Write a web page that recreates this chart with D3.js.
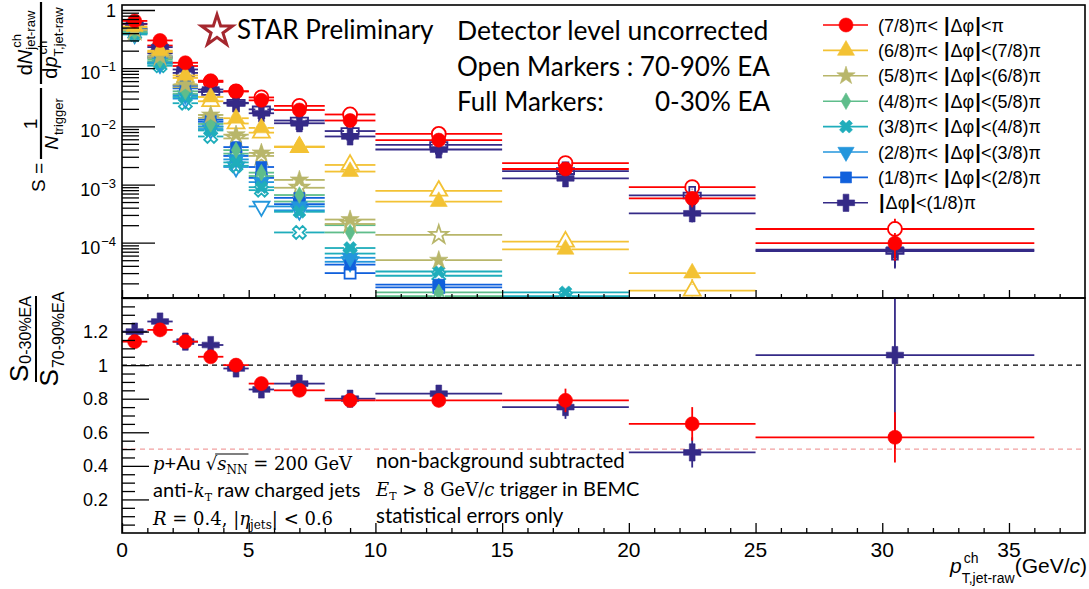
<!DOCTYPE html>
<html>
<head>
<meta charset="utf-8">
<script src="https://cdn.jsdelivr.net/npm/d3@7"></script>
<style>
body { margin: 0; background: #fff; }
svg { display: block; }
svg text { white-space: pre; }
.axis path { display: none; }
.axis line { stroke: #000; stroke-width: 1.3; }
</style>
</head>
<body>
<svg id="chart" width="1089" height="589"></svg>
<script>
"use strict";

// ---- data ----------------------------------------------------------------
var binLo     = [0, 1, 2, 3, 4, 5, 6, 8, 10, 15, 20, 25];
var binHi     = [1, 2, 3, 4, 5, 6, 8, 10, 15, 20, 25, 36];
var binCenter = [0.5, 1.5, 2.5, 3.5, 4.5, 5.5, 7, 9, 12.5, 17.5, 22.5, 30.5];

var dphiLabels = [
    ["(7/8)π< ", "|", "Δφ", "|", "<π"],
    ["(6/8)π< ", "|", "Δφ", "|", "<(7/8)π"],
    ["(5/8)π< ", "|", "Δφ", "|", "<(6/8)π"],
    ["(4/8)π< ", "|", "Δφ", "|", "<(5/8)π"],
    ["(3/8)π< ", "|", "Δφ", "|", "<(4/8)π"],
    ["(2/8)π< ", "|", "Δφ", "|", "<(3/8)π"],
    ["(1/8)π< ", "|", "Δφ", "|", "<(2/8)π"],
    ["", "|", "Δφ", "|", "<(1/8)π"]
];
var dphiColors = ["#ff0000", "#f3c234", "#b8b66a", "#5fbd8b", "#1fadbb", "#2396dc", "#1060dc", "#352a87"];
var dphiShapes = ["circle", "triangle", "star", "diamond", "x", "triangleDown", "square", "plus"];

// S, full markers = 0-30% EA, open markers = 70-90% EA
var s78Full = [0.65, 0.30, 0.124, 0.061, 0.040, 0.0280, 0.0191, 0.0126, 0.0058, 0.00185, 0.00058, 9.8e-5];
var s78Open = [0.57, 0.245, 0.109, 0.058, 0.040, 0.0314, 0.0225, 0.0160, 0.0074, 0.00234, 0.00090, 1.72e-4];
var s68Full = [0.52, 0.20, 0.075, 0.032, 0.0138, 0.0094, 0.0045, 0.00167, 0.00051, 7.7e-5, 3.0e-5, null];
var s68Open = [0.50, 0.19, 0.068, 0.027, 0.0112, 0.0078, 0.0044, 0.00217, 0.00078, 1.04e-4, 1.5e-5, null];
var s58Full = [0.46, 0.16, 0.052, 0.0157, 0.0072, 0.0035, 0.0012, 0.00025, 5.0e-5, null, null, null];
var s58Open = [0.44, 0.15, 0.047, 0.0140, 0.0062, 0.0031, 0.00088, 0.00021, 1.36e-4, null, null, null];
var s48Full = [0.42, 0.14, 0.040, 0.011, 0.0039, 0.0016, 0.00066, 1.5e-4, 1.4e-5, null, null, null];
var s48Open = [0.40, 0.13, 0.036, 0.0098, 0.0034, 0.0014, 0.00051, 2.0e-4, 1.2e-5, null, null, null];
var s38Full = [0.40, 0.12, 0.032, 0.0085, 0.0024, 0.0009, 3.4e-4, 8.1e-5, 3.2e-5, 1.4e-5, null, null];
var s38Open = [0.38, 0.11, 0.025, 0.0067, 0.0021, 0.0008, 1.5e-4, 6.5e-5, 2.7e-5, 1.2e-5, null, null];
var s28Full = [0.41, 0.125, 0.034, 0.0100, 0.0027, 0.0011, 4.2e-4, 5.5e-5, null, null, null, null];
var s28Open = [0.39, 0.12, 0.030, 0.0090, 0.0020, 4.2e-4, 3.6e-4, 4.7e-5, null, null, null, null];
var s18Full = [0.47, 0.16, 0.050, 0.013, 0.0044, 0.0020, 5.9e-4, 4.2e-5, 1.9e-5, null, null, null];
var s18Open = [0.44, 0.15, 0.045, 0.012, 0.0031, 0.0013, 4.6e-4, 3.0e-5, 1.7e-5, null, null, null];
var s08Full = [0.58, 0.23, 0.095, 0.043, 0.0249, 0.0168, 0.0113, 0.0067, 0.0040, 0.00128, 0.00032, 7.6e-5];
var s08Open = [0.48, 0.18, 0.083, 0.039, 0.0254, 0.0196, 0.0126, 0.0083, 0.0048, 0.0017, 0.00065, 7.2e-5];

var sRelErr = [0.005, 0.005, 0.01, 0.01, 0.02, 0.03, 0.04, 0.05, 0.08, 0.15, 0.3, 0.5];

// ratio S(0-30%) / S(70-90%)
var ratio78    = [1.14, 1.21, 1.14, 1.05, 1.00, 0.89, 0.85, 0.79, 0.79, 0.79, 0.65, 0.57];
var ratio78Err = [0.03, 0.02, 0.02, 0.02, 0.03, 0.04, 0.03, 0.03, 0.03, 0.07, 0.10, 0.15];
var ratio08    = [1.20, 1.26, 1.14, 1.12, 0.98, 0.855, 0.89, 0.80, 0.83, 0.75, 0.48, 1.06];
var ratio08Err = [0.03, 0.02, 0.03, 0.03, 0.04, 0.05, 0.04, 0.05, 0.03, 0.07, 0.09, 0.56];

var xTickLabels = ["0", "5", "10", "15", "20", "25", "30", "35"];
var yRatioTickLabels = ["0.2", "0.4", "0.6", "0.8", "1", "1.2"];

var fullSets = [s78Full, s68Full, s58Full, s48Full, s38Full, s28Full, s18Full, s08Full];
var openSets = [s78Open, s68Open, s58Open, s48Open, s38Open, s28Open, s18Open, s08Open];

// ---- setup ---------------------------------------------------------------
var sans  = "'Liberation Sans', Arial, Helvetica, sans-serif";
var cal   = "Lato, 'Open Sans', sans-serif";
var serif = "'DejaVu Serif', 'Liberation Serif', serif";

var svg = d3.select('#chart');

var x  = d3.scaleLinear().domain([0, 38]).range([122, 1085]);
var yS = d3.scaleLog().domain([1.12e-5, 1.22]).range([298, 5]);
var yR = d3.scaleLinear().domain([0, 1.4]).range([533, 298]);

var defs = svg.append('defs');
defs.append('clipPath').attr('id', 'clipTop').append('rect')
    .attr('x', 122).attr('y', 5).attr('width', 963).attr('height', 293);
defs.append('clipPath').attr('id', 'clipBot').append('rect')
    .attr('x', 122).attr('y', 298).attr('width', 963).attr('height', 235);

var markerSize = { circle: 155, triangle: 125, star: 105, diamond: 80, x: 105, triangleDown: 115, square: 121, plus: 165 };

function markerPath( shape ) {
    var type = {
        circle: d3.symbolCircle, triangle: d3.symbolTriangle, star: d3.symbolStar,
        diamond: d3.symbolDiamond, x: d3.symbolCross, triangleDown: d3.symbolTriangle,
        square: d3.symbolSquare, plus: d3.symbolCross
    }[shape];
    return d3.symbol().type( type ).size( markerSize[shape] )();
}

function markerRotation( shape ) {
    if ( shape === 'x' ) return 45;
    if ( shape === 'triangleDown' ) return 180;
    return 0;
}

function drawMarker( g, cx, cy, shape, color, open ) {
    g.append('path')
        .attr('d', markerPath( shape ))
        .attr('transform', 'translate(' + cx + ',' + cy + ') rotate(' + markerRotation( shape ) + ')')
        .attr('fill', open ? 'none' : color)
        .attr('stroke', color)
        .attr('stroke-width', open ? 1.8 : 0.6);
}

function drawPoints( g, yScale, vals, errs, color, shape, open ) {
    var lo = yScale.domain()[0];
    vals.forEach( function( v, i ) {
        if ( v === null ) return;
        var cx = x( binCenter[i] ), cy = yScale( v );
        var gap = 6;
        var x0 = x( binLo[i] ), x1 = x( binHi[i] );
        var e = errs[i];
        var yUp = yScale( v + e ), yDn = yScale( Math.max( v - e, lo ) );
        var seg = [[x0, cy, cx - gap, cy], [cx + gap, cy, x1, cy]];
        if ( cy - yUp > gap ) seg.push([cx, yUp, cx, cy - gap]);
        if ( yDn - cy > gap ) seg.push([cx, cy + gap, cx, yDn]);
        seg.forEach( function( s ) {
            g.append('line')
                .attr('x1', s[0]).attr('y1', s[1]).attr('x2', s[2]).attr('y2', s[3])
                .attr('stroke', color).attr('stroke-width', 1.8);
        });
        drawMarker( g, cx, cy, shape, color, open );
    });
}

// text built from pieces; a piece with sameX starts where the previous one started
function scriptLabel( g, pieces ) {
    var cursor = 0, prevStart = 0;
    var xs = [], ws = [];
    pieces.forEach( function( p ) {
        var start = p.sameX ? prevStart : cursor;
        var t = g.append('text')
            .attr('x', start + (p.dx || 0)).attr('y', p.shift || 0)
            .attr('font-family', p.family || sans)
            .attr('font-size', p.size)
            .attr('font-style', p.italic ? 'italic' : null)
            .attr('font-weight', p.bold ? 'bold' : null)
            .attr('fill', p.color || '#000')
            .text( p.text );
        var w = t.node().getComputedTextLength() + (p.dx || 0);
        xs.push( start ); ws.push( w );
        prevStart = start;
        cursor = Math.max( cursor, start + w );
    });
    scriptLabel.xs = xs;
    scriptLabel.ws = ws;
    return cursor;
}

// ---- top panel -------------------------------------------------------------
var gTop = svg.append('g').attr('clip-path', 'url(#clipTop)');

var order = [7, 6, 5, 4, 3, 2, 1, 0];
order.forEach( function( k ) {
    var errs = openSets[k].map( function( v, i ) { return v === null ? 0 : v * sRelErr[i]; });
    drawPoints( gTop, yS, openSets[k], errs, dphiColors[k], dphiShapes[k], true );
});
order.forEach( function( k ) {
    var errs = fullSets[k].map( function( v, i ) { return v === null ? 0 : v * sRelErr[i]; });
    drawPoints( gTop, yS, fullSets[k], errs, dphiColors[k], dphiShapes[k], false );
});

// axes of top panel
var majorS = [1e-4, 1e-3, 1e-2, 1e-1, 1];
var minorS = [];
[-5, -4, -3, -2, -1, 0].forEach( function( d ) {
    for ( var k = 2; k <= 9; k++ ) {
        var v = k * Math.pow( 10, d );
        if ( v > 1.12e-5 && v < 1.22 ) minorS.push( v );
    }
});
svg.append('g').attr('class', 'axis').attr('transform', 'translate(122,0)')
    .call( d3.axisLeft( yS ).tickValues( majorS ).tickSize( -33 ).tickFormat('') );
svg.append('g').attr('class', 'axis').attr('transform', 'translate(122,0)')
    .call( d3.axisLeft( yS ).tickValues( minorS ).tickSize( -17 ).tickFormat('') );

var majorX = [0, 5, 10, 15, 20, 25, 30, 35];
var minorX = d3.range( 0, 38 ).filter( function( v ) { return v % 5 !== 0; });
svg.append('g').attr('class', 'axis').attr('transform', 'translate(0,298)')
    .call( d3.axisBottom( x ).tickValues( majorX ).tickSize( -8 ).tickFormat('') );
svg.append('g').attr('class', 'axis').attr('transform', 'translate(0,298)')
    .call( d3.axisBottom( x ).tickValues( minorX ).tickSize( -4 ).tickFormat('') );

// log tick labels
majorS.forEach( function( v ) {
    var e = Math.round( Math.log10( v ) );
    var g = svg.append('g');
    var w;
    if ( e === 0 ) {
        w = scriptLabel( g, [{ text: '1', size: 18 }] );
        g.attr('transform', 'translate(' + (116 - w) + ',' + (yS( v ) + 7) + ')');
    } else {
        w = scriptLabel( g, [
            { text: '10', size: 18 },
            { text: '\u2212' + (-e), size: 13, shift: -8, dx: 1 }
        ]);
        g.attr('transform', 'translate(' + (116 - w) + ',' + (yS( v ) + 11) + ')');
    }
});

svg.append('rect').attr('x', 122).attr('y', 5).attr('width', 963).attr('height', 293)
    .attr('fill', 'none').attr('stroke', '#000').attr('stroke-width', 1.6);

// legend
dphiLabels.forEach( function( lab, i ) {
    var cy = 25 + i * 25.4;
    svg.append('line').attr('x1', 823).attr('x2', 868).attr('y1', cy).attr('y2', cy)
        .attr('stroke', dphiColors[i]).attr('stroke-width', 1.6);
    drawMarker( svg, 846, cy, dphiShapes[i], dphiColors[i], false );
    var g = svg.append('g').attr('transform', 'translate(878,' + (cy + 6.5) + ')');
    scriptLabel( g, [
        { text: lab[0], size: 18 },
        { text: lab[1], size: 20, bold: true, dx: 1 },
        { text: lab[2], size: 18, dx: 1 },
        { text: lab[3], size: 20, bold: true, dx: 1 },
        { text: lab[4], size: 18 }
    ]);
});

// star logo + headline text
svg.append('path')
    .attr('d', d3.symbol().type( d3.symbolStar ).size( 300 )())
    .attr('transform', 'translate(217,31)')
    .attr('fill', 'none').attr('stroke', '#a5272e').attr('stroke-width', 3);

svg.append('text').attr('x', 237).attr('y', 39).attr('font-family', cal).attr('font-size', 26).text('STAR Preliminary');
svg.append('text').attr('x', 457).attr('y', 40).attr('font-family', cal).attr('font-size', 26.5).text('Detector level uncorrected');
svg.append('text').attr('x', 457).attr('y', 76).attr('font-family', cal).attr('font-size', 26).text('Open Markers : 70-90% EA');
svg.append('text').attr('x', 457).attr('y', 111).attr('font-family', cal).attr('font-size', 26).text('Full Markers:');
svg.append('text').attr('x', 655).attr('y', 111).attr('font-family', cal).attr('font-size', 26).text('0-30% EA');

// ---- bottom panel ----------------------------------------------------------
var gBot = svg.append('g').attr('clip-path', 'url(#clipBot)');

gBot.append('line').attr('x1', 122).attr('x2', 1085).attr('y1', yR( 1 )).attr('y2', yR( 1 ))
    .attr('stroke', '#000').attr('stroke-width', 1.2).attr('stroke-dasharray', '5,4');
gBot.append('line').attr('x1', 122).attr('x2', 1085).attr('y1', yR( 0.5 )).attr('y2', yR( 0.5 ))
    .attr('stroke', '#f2a0a0').attr('stroke-width', 1.2).attr('stroke-dasharray', '5,4');

drawPoints( gBot, yR, ratio08, ratio08Err, dphiColors[7], 'plus', false );
drawPoints( gBot, yR, ratio78, ratio78Err, dphiColors[0], 'circle', false );

var majorR = [0.2, 0.4, 0.6, 0.8, 1, 1.2, 1.4];
var minorR = d3.range( 1, 28 ).map( function( k ) { return k * 0.05; })
    .filter( function( v ) { return Math.abs( v * 5 - Math.round( v * 5 ) ) > 1e-6; });
svg.append('g').attr('class', 'axis').attr('transform', 'translate(122,0)')
    .call( d3.axisLeft( yR ).tickValues( majorR ).tickSize( -27 ).tickFormat('') );
svg.append('g').attr('class', 'axis').attr('transform', 'translate(122,0)')
    .call( d3.axisLeft( yR ).tickValues( minorR ).tickSize( -13 ).tickFormat('') );
svg.append('g').attr('class', 'axis').attr('transform', 'translate(0,533)')
    .call( d3.axisBottom( x ).tickValues( majorX ).tickSize( -10 ).tickFormat('') );
svg.append('g').attr('class', 'axis').attr('transform', 'translate(0,533)')
    .call( d3.axisBottom( x ).tickValues( minorX ).tickSize( -5 ).tickFormat('') );

svg.append('rect').attr('x', 122).attr('y', 298).attr('width', 963).attr('height', 235)
    .attr('fill', 'none').attr('stroke', '#000').attr('stroke-width', 1.6);

yRatioTickLabels.forEach( function( lab ) {
    svg.append('text').attr('x', 108).attr('y', yR( +lab ) + 6.5)
        .attr('text-anchor', 'end').attr('font-family', sans).attr('font-size', 18).text( lab );
});
xTickLabels.forEach( function( lab ) {
    svg.append('text').attr('x', x( +lab )).attr('y', 557)
        .attr('text-anchor', 'middle').attr('font-family', sans).attr('font-size', 21).text( lab );
});

// x title
(function() {
    var g = svg.append('g');
    var w = scriptLabel( g, [
        { text: 'p', size: 21, italic: true },
        { text: 'ch', size: 14, shift: -10, dx: 2 },
        { text: 'T,jet-raw', size: 14, shift: 10, sameX: true },
        { text: '(GeV/', size: 21 },
        { text: 'c', size: 21, italic: true },
        { text: ')', size: 21 }
    ]);
    g.attr('transform', 'translate(' + (1087 - w) + ',573)');
})();

// y title, top panel
(function() {
    var g = svg.append('g').attr('transform', 'translate(40,192) rotate(-90)');
    g.append('text').attr('x', 0).attr('y', 5).attr('font-family', sans).attr('font-size', 19).text('S =');

    // 1 / N_trigger
    g.append('line').attr('x1', 33).attr('x2', 104).attr('y1', 1).attr('y2', 1).attr('stroke', '#000').attr('stroke-width', 2.2);
    var n1 = g.append('g');
    var w1 = scriptLabel( n1, [{ text: '1', size: 19 }] );
    n1.attr('transform', 'translate(' + (68 - w1 / 2) + ',-3)');
    var d1 = g.append('g');
    var wd1 = scriptLabel( d1, [
        { text: 'N', size: 19, italic: true },
        { text: 'trigger', size: 13, shift: 5, dx: 1 }
    ]);
    d1.attr('transform', 'translate(' + (68 - wd1 / 2) + ',18)');

    // dN / dp
    g.append('line').attr('x1', 108).attr('x2', 190).attr('y1', 1).attr('y2', 1).attr('stroke', '#000').attr('stroke-width', 2.2);
    var n2 = g.append('g');
    var w2 = scriptLabel( n2, [
        { text: 'd', size: 20 },
        { text: 'N', size: 20, italic: true },
        { text: 'ch', size: 13, shift: -11, dx: 2 },
        { text: 'jet-raw', size: 13, shift: 3, sameX: true }
    ]);
    n2.attr('transform', 'translate(' + (149 - w2 / 2) + ',-8)');
    var d2 = g.append('g');
    var wd2 = scriptLabel( d2, [
        { text: 'd', size: 20 },
        { text: 'p', size: 20, italic: true },
        { text: 'ch', size: 13, shift: -10, dx: 2 },
        { text: 'T,jet-raw', size: 13, shift: 6, sameX: true }
    ]);
    d2.attr('transform', 'translate(' + (149 - wd2 / 2) + ',17)');
})();

// y title, ratio panel
(function() {
    var g = svg.append('g').attr('transform', 'translate(36,382) rotate(-90)');
    g.append('line').attr('x1', 0).attr('x2', 86).attr('y1', 0).attr('y2', 0).attr('stroke', '#000').attr('stroke-width', 2);
    var n = g.append('g');
    var wn = scriptLabel( n, [
        { text: 'S', size: 26 },
        { text: '0-30%EA', size: 16, shift: 3, dx: 1 }
    ]);
    n.attr('transform', 'translate(' + (43 - wn / 2) + ',-8)');
    var d = g.append('g');
    var wd = scriptLabel( d, [
        { text: 'S', size: 26 },
        { text: '70-90%EA', size: 16, shift: 6, dx: 1 }
    ]);
    d.attr('transform', 'translate(' + (43 - wd / 2) + ',22)');
})();

// annotations in ratio panel
(function() {
    var g1 = svg.append('g').attr('transform', 'translate(153,470)');
    scriptLabel( g1, [
        { text: 'p', size: 18, italic: true, family: serif },
        { text: '+Au ', size: 20, family: cal },
        { text: '\u221A', size: 18, family: serif },
        { text: 's', size: 18, italic: true, family: serif },
        { text: 'NN', size: 12, shift: 4, family: serif },
        { text: ' = 200 GeV', size: 18, family: serif }
    ]);
    var xs = scriptLabel.xs, ws = scriptLabel.ws;
    g1.append('line').attr('x1', xs[2] + ws[2] - 2).attr('x2', xs[4] + ws[4] + 1)
        .attr('y1', -16).attr('y2', -16).attr('stroke', '#000').attr('stroke-width', 1.2);

    var g2 = svg.append('g').attr('transform', 'translate(153,497)');
    scriptLabel( g2, [
        { text: 'anti-', size: 20, family: cal },
        { text: 'k', size: 18, italic: true, family: serif },
        { text: 'T', size: 11, shift: 4, family: serif },
        { text: ' raw charged jets', size: 20, family: cal }
    ]);

    var g3 = svg.append('g').attr('transform', 'translate(153,525)');
    scriptLabel( g3, [
        { text: 'R', size: 18, italic: true, family: serif },
        { text: ' = 0.4, |', size: 18, family: serif },
        { text: 'η', size: 18, italic: true, family: serif },
        { text: 'jets', size: 12, shift: 4, family: serif },
        { text: '| < 0.6', size: 18, family: serif }
    ]);

    svg.append('text').attr('x', 376).attr('y', 468).attr('font-family', cal).attr('font-size', 20.5).text('non-background subtracted');
    var g4 = svg.append('g').attr('transform', 'translate(376,496)');
    scriptLabel( g4, [
        { text: 'E', size: 18, italic: true, family: serif },
        { text: 'T', size: 11, shift: 4, family: serif },
        { text: ' > 8 GeV/', size: 18, family: serif },
        { text: 'c', size: 18, italic: true, family: serif },
        { text: ' trigger in BEMC', size: 20, family: cal }
    ]);
    svg.append('text').attr('x', 376).attr('y', 523).attr('font-family', cal).attr('font-size', 20.5).text('statistical errors only');
})();
</script>
</body>
</html>
